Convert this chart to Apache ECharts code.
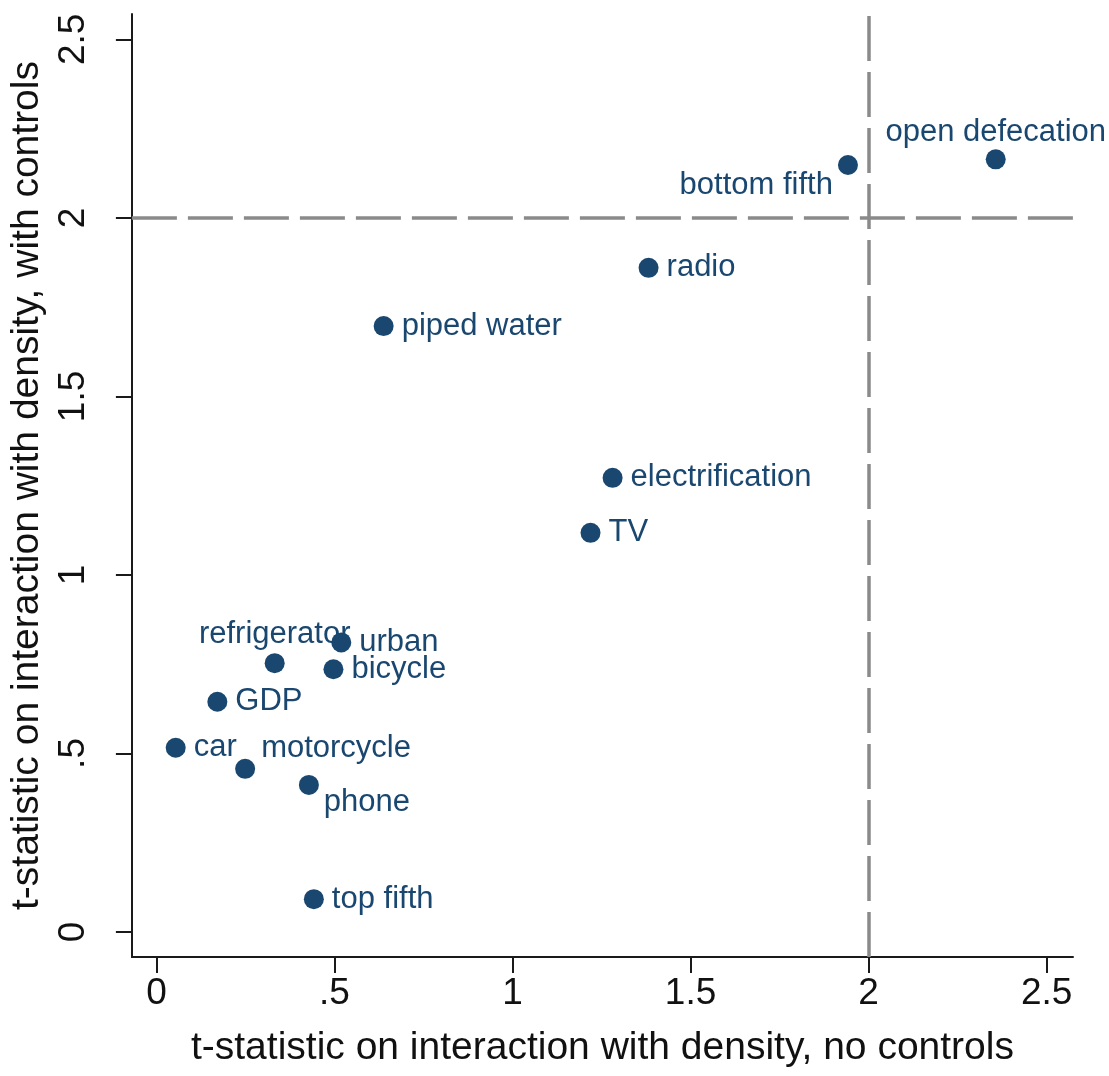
<!DOCTYPE html>
<html>
<head>
<meta charset="utf-8">
<script src="https://cdn.jsdelivr.net/npm/echarts@6/dist/echarts.min.js"></script>
<style>
html,body{margin:0;padding:0;background:#fff;}
#chart{width:1109px;height:1076px;}
</style>
</head>
<body>
<div id="chart"></div>
<script>
// Data
const names = ["open defecation","bottom fifth","radio","piped water","electrification","TV","refrigerator","urban","bicycle","GDP","car","motorcycle","phone","top fifth"];
const tNoControls = [2.357,1.942,1.382,0.638,1.281,1.219,0.332,0.519,0.497,0.171,0.054,0.249,0.428,0.442];
const tWithControls = [2.164,2.148,1.860,1.697,1.272,1.118,0.753,0.811,0.736,0.645,0.516,0.457,0.412,0.092];
const tickValues = [0,0.5,1,1.5,2,2.5];
const tickLabels = ["0",".5","1","1.5","2","2.5"];
const refX = 2;
const refY = 2;

// label placement (clock-position style), offsets in px from marker centre
const labelPlace = {
  "open defecation": {align:"center", offset:[0,-27]},
  "bottom fifth": {align:"right", offset:[-15,20]},
  "refrigerator": {align:"center", offset:[0,-29]},
  "motorcycle": {align:"left", offset:[16,-20]},
  "phone": {align:"left", offset:[15,18]}
};

const navy = "#1a476f";
const data = names.map((n,i)=>{
  const p = labelPlace[n] || {align:"left", offset:[18,0]};
  return {
    name:n,
    value:[tNoControls[i], tWithControls[i]],
    label:{show:true, position:"inside", formatter:n, align:p.align, verticalAlign:"middle", offset:p.offset}
  };
});

function fmt(v){
  for(let i=0;i<tickValues.length;i++){ if(Math.abs(v-tickValues[i])<1e-9) return tickLabels[i]; }
  return "";
}

const chart = echarts.init(document.getElementById('chart'), null, {renderer:'canvas'});
const axisCommon = {
  type:'value',
  splitLine:{show:false},
  axisLine:{show:true, onZero:false, lineStyle:{color:'#1a1a1a', width:2}},
  axisTick:{show:true, length:16, lineStyle:{color:'#1a1a1a', width:2}, customValues:tickValues},
  nameLocation:'middle',
  nameTextStyle:{fontFamily:'Liberation Sans, Arial, sans-serif', fontSize:39, color:'#111'}
};
chart.setOption({
  animation:false,
  backgroundColor:'#fff',
  grid:{left:131, top:14, right:36, bottom:119, containLabel:false},
  xAxis:Object.assign({}, axisCommon, {
    min:-0.069, max:2.574,
    name:'t-statistic on interaction with density, no controls',
    nameGap:72,
    axisLabel:{customValues:tickValues, formatter:fmt, fontFamily:'Liberation Sans, Arial, sans-serif', fontSize:37, color:'#111', margin:18}
  }),
  yAxis:Object.assign({}, axisCommon, {
    min:-0.070, max:2.571,
    name:'t-statistic on interaction with density, with controls',
    nameGap:82,
    axisLabel:{customValues:tickValues, formatter:fmt, rotate:90, fontFamily:'Liberation Sans, Arial, sans-serif', fontSize:37, color:'#111', margin:40}
  }),
  series:[{
    type:'scatter',
    symbol:'circle',
    symbolSize:20,
    itemStyle:{color:navy, opacity:1},
    label:{show:true, color:navy, opacity:1, fontFamily:'Liberation Sans, Arial, sans-serif', fontSize:31},
    data:data,
    markLine:{
      silent:true,
      symbol:['none','none'],
      label:{show:false},
      lineStyle:{color:'#8a8a8a', width:3.5, opacity:1, type:[45,11]},
      data:[{xAxis:refX},{yAxis:refY}]
    }
  }]
});
</script>
</body>
</html>
